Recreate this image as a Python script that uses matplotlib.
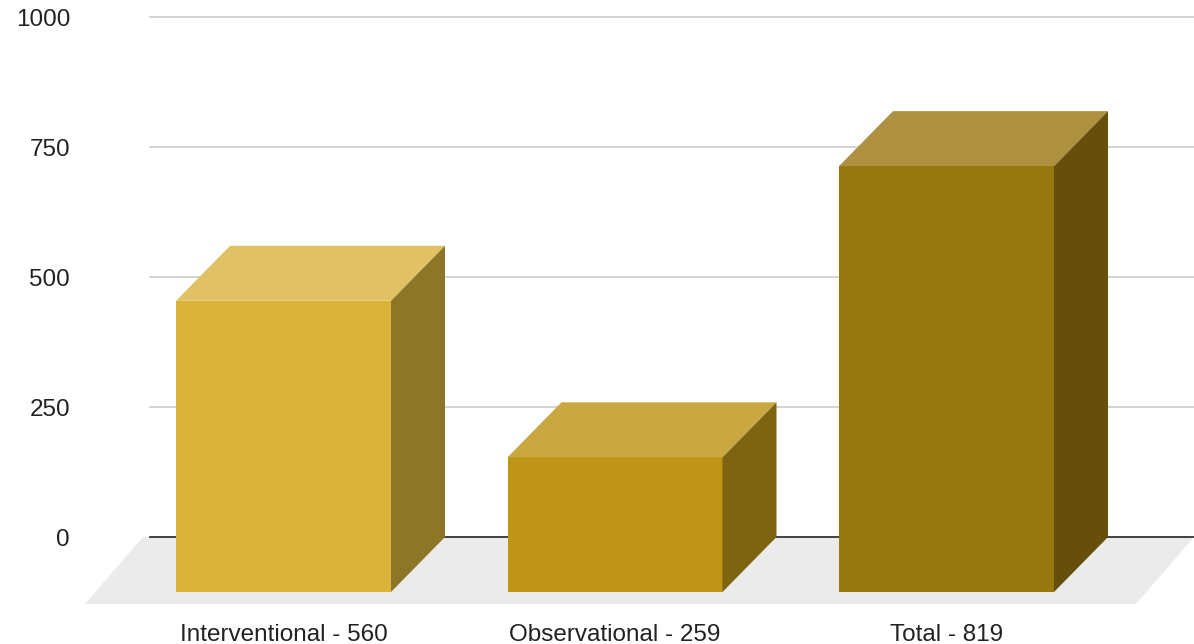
import matplotlib.pyplot as plt
from matplotlib.patches import Polygon
from matplotlib.transforms import blended_transform_factory

categories = ['Interventional - 560', 'Observational - 259', 'Total - 819']
values = [560, 259, 819]
y_ticks = [0, 250, 500, 750, 1000]

front_colors = ['#DBB33B', '#BF9517', '#97770F']
top_colors = ['#E0C264', '#C9A842', '#AE9140']
side_colors = ['#8E7629', '#7E6410', '#654F0A']

plt.rcParams['font.family'] = ['Liberation Sans', 'DejaVu Sans']

fig = plt.figure(figsize=(11.94, 6.44), dpi=100)
ax = fig.add_axes([0, 0, 1, 1])

# pixel geometry -> data units
px_y = 0.52          # pixels per value unit
px_x = 331.5         # pixels per category
ax.set_ylim(-(644 - 537) / px_y, 1000 + 17 / px_y)
ax.set_xlim(-283.5 / px_x, (1194 - 283.5) / px_x)
ax.axis('off')

width = 215 / px_x
dx = 54 / px_x
dy = 55 / px_y

# floor
fdx = 58 / px_x
fdy = 67 / px_y
x_left = (143 - 283.5) / px_x
x_right = (1194 - 283.5) / px_x
ax.add_patch(Polygon([(x_left, 0), (x_right, 0), (x_right - fdx, -fdy), (x_left - fdx, -fdy)],
                     closed=True, facecolor='#EBEBEB', edgecolor='none', zorder=1))

# grid + y labels
gx0 = (150 - 283.5) / px_x
trans = blended_transform_factory(fig.transFigure, ax.transData)
for t in y_ticks:
    if t == 0:
        ax.plot([gx0, x_right], [t, t], color='#333333', lw=1.3, zorder=2)
    else:
        ax.plot([gx0, x_right], [t, t], color='#CCCCCC', lw=1.2, zorder=2)
    ax.text(70 / 1194, t - 3 / px_y, str(t), transform=trans,
            ha='right', va='center', fontsize=17.5, color='#222222')

for i, (v, fc, tc, sc) in enumerate(zip(values, front_colors, top_colors, side_colors)):
    x0 = i - width / 2
    x1 = i + width / 2
    ax.add_patch(Polygon([(x0, -dy), (x1, -dy), (x1, v - dy), (x0, v - dy)],
                         closed=True, facecolor=fc, edgecolor='none', zorder=3))
    ax.add_patch(Polygon([(x0, v - dy), (x1, v - dy), (x1 + dx, v), (x0 + dx, v)],
                         closed=True, facecolor=tc, edgecolor='none', zorder=3))
    ax.add_patch(Polygon([(x1, -dy), (x1 + dx, 0), (x1 + dx, v), (x1, v - dy)],
                         closed=True, facecolor=sc, edgecolor='none', zorder=3))
    ax.text(i, -(635 - 537) / px_y, categories[i], ha='center', va='center',
            fontsize=17.5, color='#222222')

fig.savefig('out.png', dpi=100)
